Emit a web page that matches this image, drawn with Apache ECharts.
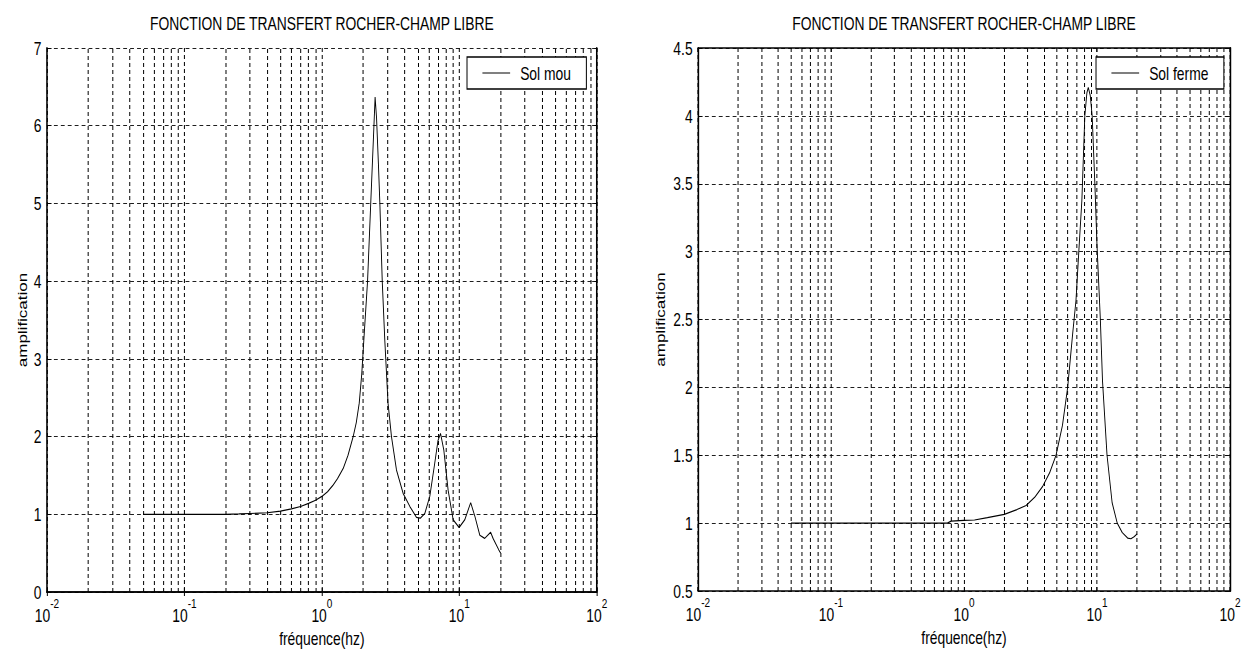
<!DOCTYPE html>
<html>
<head>
<meta charset="utf-8">
<title>Fonction de transfert rocher-champ libre</title>
<script src="https://cdn.jsdelivr.net/npm/echarts@6/dist/echarts.min.js"></script>
<style>
  html, body { margin: 0; padding: 0; background: #fff; overflow: hidden; width: 1243px; height: 659px; }
  /* The figure is laid out wide and narrowed horizontally, giving the condensed lettering */
  #chart { width: 1614px; height: 659px; transform: scaleX(0.77); transform-origin: 0 0; }
</style>
</head>
<body>
<div id="chart"></div>
<script>
// Frequencies (Hz) and amplification, soft soil ("Sol mou")
const freqMou = [0.05, 0.1, 0.15, 0.2, 0.25, 0.3, 0.4, 0.5, 0.6, 0.7, 0.8, 0.9, 1.0, 1.1, 1.2, 1.3, 1.43, 1.55, 1.69,
  1.78, 1.87, 1.95, 2.02, 2.15, 2.27, 2.38, 2.44, 2.5, 2.58, 2.64, 2.75, 2.87, 3.03, 3.21, 3.49, 3.9, 4.37,
  4.88, 5.2, 5.61, 6.1, 6.63, 7.0, 7.3, 7.71, 8.29, 9.02, 9.97, 10.96, 12.1, 13.0, 14.1, 15.3,
  16.9, 17.6, 19.4, 20];
const ampMou = [1.0, 1.0, 1.0, 1.0, 1.005, 1.01, 1.02, 1.04, 1.07, 1.10, 1.14, 1.18, 1.23, 1.29, 1.37, 1.46, 1.59, 1.76, 2.0,
  2.18, 2.43, 2.8, 3.24, 4.0, 5.02, 5.9, 6.37, 6.1, 5.5, 5.02, 4.0, 3.24, 2.43, 2.0, 1.57, 1.27, 1.10,
  0.96, 0.95, 1.01, 1.23, 1.66, 1.95, 2.04, 1.83, 1.31, 0.93, 0.83, 0.93, 1.15, 0.97, 0.73, 0.69,
  0.77, 0.69, 0.54, 0.5];

// Frequencies (Hz) and amplification, stiff soil ("Sol ferme")
const freqFerme = [0.05, 0.1, 0.2, 0.4, 0.6, 0.75, 0.8, 1.0, 1.2, 1.5, 2.01, 2.5, 2.93, 3.4, 3.9, 4.4,
  4.92, 5.5, 6.02, 6.57, 6.95, 7.3, 7.7, 8.1, 8.4, 8.6, 8.9, 9.2, 9.64, 10.0, 10.6, 11.0,
  11.9, 13.0, 14.2, 15.5, 17.0, 18.0, 19.0, 20.0];
const ampFerme = [1.0, 1.0, 1.0, 1.0, 1.0, 1.0, 1.015, 1.02, 1.023, 1.04, 1.065, 1.10, 1.13, 1.19, 1.27, 1.37,
  1.50, 1.72, 2.0, 2.40, 2.64, 3.0, 3.38, 4.0, 4.17, 4.21, 4.15, 4.0, 3.5, 3.05, 2.5, 2.05,
  1.5, 1.15, 1.0, 0.93, 0.89, 0.885, 0.9, 0.92];

// Axis settings
const chartTitle = 'FONCTION DE TRANSFERT ROCHER-CHAMP LIBRE';
const xName = 'fréquence(hz)';
const yName = 'amplification';
const seriesNames = ['Sol mou', 'Sol ferme'];
const xMin = 0.01, xMax = 100;
const yRangeMou = [0, 7, 1];
const yRangeFerme = [0.5, 4.5, 0.5];
// Intermediate log-decade grid positions (2..9 x 10^n)
const minorGrid = [];
for (let e = -2; e <= 1; e++) {
  for (let k = 2; k <= 9; k++) minorGrid.push(+(k * Math.pow(10, e)).toPrecision(3));
}

const FONT = '"Liberation Sans", Arial, sans-serif';
const vDash = { color: '#000', width: 1.3, type: [4, 3] };
const hDash = { color: '#000', width: 1, type: [5, 4] };

function pairs(xs, ys) { return xs.map((x, i) => [x, ys[i]]); }

function powLabel(v) {
  const e = Math.round(Math.log10(v));
  return '{b|10}{s|' + e + '}';
}

const richPow = {
  b: { fontFamily: FONT, fontSize: 18, color: '#000', lineHeight: 28, verticalAlign: 'bottom' },
  s: { fontFamily: FONT, fontSize: 13, color: '#000', lineHeight: 28, verticalAlign: 'top' }
};

function bottomAxis(gi) {
  return {
    type: 'log', logBase: 10, gridIndex: gi, position: 'bottom', min: xMin, max: xMax,
    axisLine: { show: true, lineStyle: { color: '#000', width: 1.5 } },
    axisTick: { show: true, inside: true, length: 4, lineStyle: { color: '#000', width: 1.3 } },
    axisLabel: { formatter: powLabel, rich: richPow, margin: 4 },
    splitLine: { show: true, lineStyle: vDash },
    name: xName, nameLocation: 'middle', nameGap: 36,
    nameTextStyle: { fontFamily: FONT, fontSize: 18, color: '#000' }
  };
}
function topAxis(gi) {
  return {
    type: 'log', logBase: 10, gridIndex: gi, position: 'top', min: xMin, max: xMax,
    axisLine: { show: true, lineStyle: { color: '#000', width: 1.5 } },
    axisTick: { show: true, inside: true, length: 4, lineStyle: { color: '#000', width: 1.3 } },
    axisLabel: { show: false }, splitLine: { show: false },
    name: chartTitle, nameLocation: 'middle', nameGap: 16,
    nameTextStyle: { fontFamily: FONT, fontSize: 18, color: '#000' }
  };
}
function leftAxis(gi, r, gap) {
  return {
    type: 'value', gridIndex: gi, position: 'left', min: r[0], max: r[1], interval: r[2],
    axisLine: { show: true, lineStyle: { color: '#000', width: 2 } },
    axisTick: { show: true, inside: true, length: 6, lineStyle: { color: '#000' } },
    axisLabel: { fontFamily: FONT, fontSize: 18, color: '#000', margin: 7 },
    splitLine: { show: true, lineStyle: hDash },
    name: yName, nameLocation: 'middle', nameGap: gap, nameRotate: 90,
    nameTextStyle: { fontFamily: FONT, fontSize: 17, color: '#000' }
  };
}
function rightAxis(gi, r) {
  return {
    type: 'value', gridIndex: gi, position: 'right', min: r[0], max: r[1], interval: r[2],
    axisLine: { show: true, lineStyle: { color: '#000', width: 2 } },
    axisTick: { show: true, inside: true, length: 6, lineStyle: { color: '#000' } },
    axisLabel: { show: false }, splitLine: { show: false }
  };
}
function minorGridSeries(xi, yi) {
  return {
    type: 'line', xAxisIndex: xi, yAxisIndex: yi, data: [], silent: true, z: 1,
    markLine: {
      silent: true, symbol: 'none', animation: false, z: 1,
      label: { show: false },
      lineStyle: vDash,
      data: minorGrid.map(v => ({ xAxis: v }))
    }
  };
}
function curve(name, xi, yi, xs, ys) {
  return {
    name: name, type: 'line', xAxisIndex: xi, yAxisIndex: yi, z: 5,
    data: pairs(xs, ys), showSymbol: false, symbol: 'none',
    lineStyle: { color: '#000', width: 1.2 }, itemStyle: { color: '#000' }
  };
}
function legendBox(name, left) {
  return {
    data: [name], left: left, top: 57, orient: 'horizontal', z: 20,
    backgroundColor: '#fff', borderColor: '#000', borderWidth: 1.3,
    padding: [7, 20, 7, 20], itemWidth: 36, itemHeight: 1, icon: 'rect',
    itemStyle: { color: '#000' },
    textStyle: { fontFamily: FONT, fontSize: 18, color: '#000', padding: [0, 0, 0, 8] }
  };
}

const chart = echarts.init(document.getElementById('chart'), null, { renderer: 'svg', width: 1614, height: 659 });
chart.setOption({
  animation: false,
  backgroundColor: '#fff',
  grid: [
    { left: 61, top: 48, width: 714, height: 544, show: false },
    { left: 906.5, top: 48, width: 692, height: 543, show: false }
  ],
  xAxis: [bottomAxis(0), topAxis(0), bottomAxis(1), topAxis(1)],
  yAxis: [leftAxis(0, yRangeMou, 24), rightAxis(0, yRangeMou), leftAxis(1, yRangeFerme, 40), rightAxis(1, yRangeFerme)],
  legend: [legendBox(seriesNames[0], 606.5), legendBox(seriesNames[1], 1423.4)],
  series: [
    minorGridSeries(0, 0),
    minorGridSeries(2, 2),
    curve(seriesNames[0], 0, 0, freqMou, ampMou),
    curve(seriesNames[1], 2, 2, freqFerme, ampFerme)
  ]
});
</script>
</body>
</html>
